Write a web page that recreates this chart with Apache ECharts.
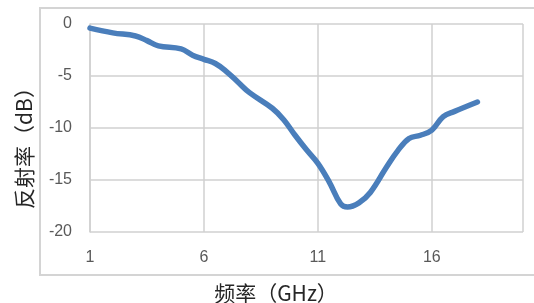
<!DOCTYPE html>
<html>
<head>
<meta charset="utf-8">
<script src="https://cdn.jsdelivr.net/npm/echarts@6/dist/echarts.min.js"></script>
<style>
html, body { margin: 0; padding: 0; background: #fff; }
#main { width: 534px; height: 303px; }
</style>
</head>
<body>
<div id="main"></div>
<script>
// 频率 (GHz) / 反射率 (dB)
var freq = [1, 2, 3, 3.5, 4, 5, 5.5, 6, 6.5, 7, 7.5, 8, 9, 9.5, 10, 10.5, 11, 11.5, 12, 12.3, 12.8, 13.3, 14, 14.5, 15, 15.5, 16, 16.5, 17, 18];
var refl = [-0.4, -0.85, -1.15, -1.6, -2.1, -2.4, -3.0, -3.4, -3.8, -4.6, -5.6, -6.6, -8.1, -9.2, -10.7, -12.1, -13.4, -15.2, -17.3, -17.6, -17.2, -16.2, -13.8, -12.2, -11.0, -10.7, -10.2, -8.9, -8.4, -7.5];
var xTitle = '频率（GHz）';
var yTitle = '反射率（dB）';

var pts = [];
for (var i = 0; i < freq.length; i++) {
    pts.push([freq[i], refl[i]]);
}

var chart = echarts.init(document.getElementById('main'));
var numFont = 'Liberation Sans, Arial, sans-serif';
var cjkFont = '"Noto Sans CJK SC", sans-serif';
var option = {
    animation: false,
    grid: { left: 90, top: 24, right: 11, bottom: 71 },
    graphic: [
        {
            type: 'rect',
            shape: { x: 40, y: 8, width: 520, height: 267 },
            style: { fill: 'none', stroke: '#d4d4d4', lineWidth: 2 },
            z: -1
        },
        {
            type: 'text',
            x: 276, y: 293,
            style: { text: xTitle, font: '21px ' + cjkFont, fill: '#262626', textAlign: 'center', textVerticalAlign: 'middle' }
        },
        {
            type: 'text',
            x: 24, y: 143,
            rotation: Math.PI / 2,
            style: { text: yTitle, font: '21px ' + cjkFont, fill: '#262626', textAlign: 'center', textVerticalAlign: 'middle' }
        }
    ],
    xAxis: {
        type: 'value',
        min: 1,
        max: 20,
        interval: 5,
        axisLine: { show: false },
        axisTick: { show: false },
        axisLabel: { color: '#595959', fontSize: 16, fontFamily: numFont, margin: 18, showMaxLabel: false },
        splitLine: { show: true, lineStyle: { color: '#d0d0d0', width: 1.5 } }
    },
    yAxis: {
        type: 'value',
        min: -20,
        max: 0,
        interval: 5,
        axisLine: { show: true, lineStyle: { color: '#d0d0d0', width: 1.5 } },
        axisTick: { show: false },
        axisLabel: { color: '#595959', fontSize: 16, fontFamily: numFont, margin: 18 },
        splitLine: { show: true, lineStyle: { color: '#d0d0d0', width: 1.5 } }
    },
    series: [
        {
            type: 'line',
            data: pts,
            smooth: 0.4,
            symbol: 'none',
            lineStyle: { color: '#4a7ebb', width: 5.5, cap: 'round' }
        }
    ]
};
chart.setOption(option);
</script>
</body>
</html>
